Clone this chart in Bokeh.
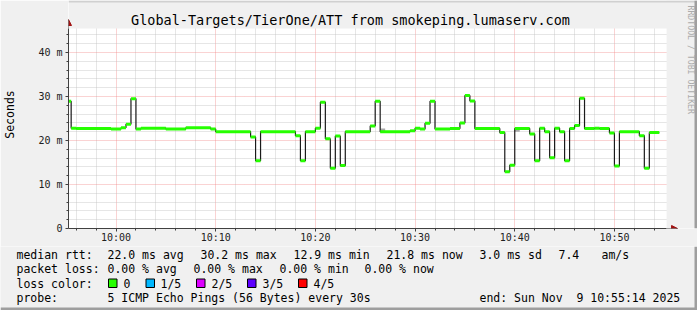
import math
import pandas as pd
from bokeh.plotting import figure
from bokeh.layouts import column
from bokeh.models import (Range1d, FixedTicker, DatetimeTickFormatter, Label,
                          BoxAnnotation, Arrow, NormalHead)
from bokeh.embed import file_html
from bokeh.resources import INLINE

DAY = "2025-11-09"
START = "09:55:14"
END = "10:55:14"
Y_MAX = 45.45

# median RTT steps (segment start times, last entry = end of last segment), ms
seg_times = ["09:55:14", "09:55:30", "09:56:00", "09:59:30", "10:00:30", "10:01:00",
             "10:01:30", "10:02:00", "10:02:30", "10:05:00", "10:07:00", "10:09:30",
             "10:10:00", "10:13:30", "10:14:00", "10:14:30", "10:18:00", "10:18:30",
             "10:19:00", "10:20:00", "10:20:30", "10:21:00", "10:21:30", "10:22:00",
             "10:22:30", "10:23:00", "10:25:30", "10:26:00", "10:26:30", "10:29:30",
             "10:30:00", "10:30:30", "10:31:00", "10:31:30", "10:32:00", "10:33:30",
             "10:34:30", "10:35:00", "10:35:30", "10:36:00", "10:38:30", "10:39:00",
             "10:39:30", "10:40:00", "10:41:30", "10:42:00", "10:42:30", "10:43:00",
             "10:43:30", "10:44:00", "10:44:30", "10:45:00", "10:45:30", "10:46:00",
             "10:46:30", "10:47:00", "10:48:00", "10:48:30", "10:49:30", "10:50:00",
             "10:50:30", "10:52:30", "10:53:00", "10:53:30", "10:54:30"]
median_ms = [28.9, 22.8, 22.7, 22.6, 22.9, 23.7,
             29.5, 22.6, 22.8, 22.6, 22.9, 22.6,
             22.0, 20.8, 15.4, 22.0, 21.1, 15.4,
             22.0, 22.8, 28.7, 20.4, 13.7, 21.0,
             14.3, 22.0, 23.3, 28.9, 22.0, 22.2,
             22.8, 22.6, 23.9, 28.9, 22.6, 22.7,
             24.0, 30.2, 29.0, 22.7, 21.8, 12.9,
             14.4, 22.7, 21.5, 15.4, 22.8, 22.0,
             16.1, 22.8, 22.0, 15.4, 22.7, 23.4,
             29.6, 22.7, 22.8, 22.7, 21.7, 14.2,
             22.0, 21.1, 13.7, 21.8]

# smoke patches (ping spread)
smoke_start = ["10:26:30", "10:40:00"]
smoke_end = ["10:27:00", "10:40:30"]
smoke_lo = [22.0, 22.0]
smoke_hi = [22.7, 22.7]

y_ticks = [0, 10, 20, 30, 40]
y_tick_labels = ["0", "10 m", "20 m", "30 m", "40 m"]
x_tick_times = ["10:00", "10:10", "10:20", "10:30", "10:40", "10:50"]

loss_labels = ["0", "1/5", "2/5", "3/5", "4/5"]
loss_colors = ["#26ff00", "#00b8ff", "#dd00ff", "#5e00ff", "#ff0000"]

title_text = "Global-Targets/TierOne/ATT from smokeping.lumaserv.com"
row1 = ["median rtt:", "22.0 ms avg", "30.2 ms max", "12.9 ms min", "21.8 ms now",
        "3.0 ms sd", "7.4", "am/s"]
row2 = ["packet loss:", "0.00 % avg", "0.00 % max", "0.00 % min", "0.00 % now"]
row3 = ["loss color:"]
row4 = ["probe:", "5 ICMP Echo Pings (56 Bytes) every 30s",
        "end: Sun Nov\u00a0 9 10:55:14 2025"]


def ms(t):
    if len(t) == 5:
        t = t + ":00"
    return pd.Timestamp(f"{DAY} {t}").value / 1e6


MONO = "DejaVu Sans Mono"
BG = "#f0f0f0"
W = 697
FL = 66           # data area left on canvas
DW = 600          # data area width (px)
DT, DB = 28, 228  # data area top / bottom on canvas
MAIN_H = 246
PX_MS = (ms(END) - ms(START)) / DW       # ms of time per pixel
PX_Y = Y_MAX / (DB - DT)                 # value per pixel

x_end = ms(END) + (W - FL - DW) * PX_MS
y_top = Y_MAX + DT * PX_Y

p = figure(width=W, height=MAIN_H, x_axis_type="datetime", output_backend="svg",
           toolbar_location=None, title=None,
           x_range=Range1d(ms(START), x_end), y_range=Range1d(0, y_top),
           min_border_left=FL, min_border_right=0, min_border_top=0,
           min_border_bottom=MAIN_H - DB)
p.frame_align = False
p.background_fill_color = "white"
p.border_fill_color = BG
p.outline_line_color = None

# ticks / grid
major_x = [ms(t) for t in x_tick_times]
minor_x = []
t = ms("09:56:00")
while t < ms(END):
    if t not in major_x:
        minor_x.append(t)
    t += 120000
xt = FixedTicker(ticks=major_x, minor_ticks=minor_x)
p.xaxis.ticker = xt
p.xgrid.ticker = xt
p.xaxis.formatter = DatetimeTickFormatter(seconds="%H:%M", minsec="%H:%M", minutes="%H:%M",
                                          hourmin="%H:%M", hours="%H:%M")
minor_y = [v for v in range(2, 46, 2) if v % 10 != 0]
yt = FixedTicker(ticks=y_ticks, minor_ticks=minor_y)
p.yaxis.ticker = yt
p.ygrid.ticker = yt
p.yaxis.major_label_overrides = {v: s for v, s in zip(y_ticks, y_tick_labels)}
p.xaxis.bounds = (ms(START), ms(END))
p.yaxis.bounds = (0, Y_MAX)

for g in (p.xgrid, p.ygrid):
    g.grid_line_color = "#f08080"
    g.grid_line_alpha = 0.7
    g.grid_line_dash = "1 1"
    g.minor_grid_line_color = "#c0c0c0"
    g.minor_grid_line_alpha = 0.8
    g.minor_grid_line_dash = "1 1"

for ax in (p.xaxis, p.yaxis):
    ax.axis_line_color = "#404040"
    ax.major_tick_line_color = "#404040"
    ax.minor_tick_line_color = "#404040"
    ax.major_tick_in = 0
    ax.major_tick_out = 3
    ax.minor_tick_in = 0
    ax.minor_tick_out = 2
    ax.major_label_text_font = MONO
    ax.major_label_text_font_size = "10px"
    ax.major_label_text_color = "#202020"
p.xaxis.major_label_standoff = 0
p.yaxis.major_label_standoff = 3
p.yaxis.axis_label = "Seconds"
p.yaxis.axis_label_text_font = MONO
p.yaxis.axis_label_text_font_size = "11.5px"
p.yaxis.axis_label_text_font_style = "normal"
p.yaxis.axis_label_text_color = "#000000"
p.yaxis.axis_label_standoff = 18

# cover the parts of the frame outside the data area (title strip, right strip)
p.quad(left=[ms(START), ms(END)], right=[x_end, x_end], bottom=[Y_MAX, 0],
       top=[y_top, y_top], fill_color=BG, line_color=None)
p.quad(left=[ms(START), ms(START) + (W - 3 - FL) * PX_MS],
       right=[x_end, x_end],
       bottom=[y_top - 2 * PX_Y, 0], top=[y_top, y_top],
       fill_color=["#d0d0d0", "#9e9e9e"], line_color=None)

# data
starts = [ms(s) for s in seg_times[:-1]]
ends = [ms(s) for s in seg_times[1:]]
xs, ys = [], []
for a, b, v in zip(starts, ends, median_ms):
    xs += [a, b]
    ys += [v, v]
p.quad(left=[ms(s) for s in smoke_start], right=[ms(s) for s in smoke_end],
       bottom=smoke_lo, top=smoke_hi, fill_color="#a8a8a8", line_color=None)
p.line(xs, ys, line_color="#1a1a1a", line_width=1.2)
p.segment(x0=starts, y0=median_ms, x1=ends, y1=median_ms,
          line_color="#26ff00", line_width=3, line_cap="butt")

# axis arrows
head_c = "#a01010"
p.add_layout(Arrow(x_start=ms(START), y_start=Y_MAX, x_end=ms(START), y_end=Y_MAX + 9 * PX_Y,
                   line_color="#404040", line_width=1,
                   end=NormalHead(size=6, fill_color=head_c, line_color=head_c)))
p.add_layout(Arrow(x_start=ms(END), y_start=0, x_end=ms(END) + 11 * PX_MS, y_end=0,
                   line_color="#404040", line_width=1,
                   end=NormalHead(size=6, fill_color=head_c, line_color=head_c)))


def lab(fig, text, xs_, ys_, size="11.5px", **kw):
    fig.add_layout(Label(x=xs_, y=ys_, x_units="screen", y_units="screen",
                         text=text, text_font=MONO, text_font_size=size,
                         text_baseline=kw.pop("baseline", "middle"),
                         text_align=kw.pop("align", "left"),
                         text_color=kw.pop("color", "#000000"), **kw))


# labels in main figure (frame-relative: x from canvas x=66, y up from canvas y=228)
lab(p, title_text, 348 - FL, DB - 19.5, size="13.5px", align="center")
lab(p, "RRDTOOL / TOBI OETIKER", 688 - FL, DB - 5, size="8.2px", align="left",
    angle=-math.pi / 2, color="#ababab")

# legend figure below
LH = 310 - MAIN_H
q = figure(width=W, height=LH, output_backend="svg", toolbar_location=None, title=None,
           x_range=Range1d(0, W), y_range=Range1d(0, LH),
           x_axis_location=None, y_axis_location=None,
           min_border_left=0, min_border_right=0, min_border_top=0, min_border_bottom=0)
q.frame_align = False
q.background_fill_color = BG
q.border_fill_color = BG
q.outline_line_color = None
q.grid.visible = False


def ly(yc):
    return 310 - yc


row1_x = [16, 107, 200, 293, 386, 479, 558, 601]
row2_x = [16, 107, 193, 279, 364]
row4_x = [16, 107, 479]
for txt, x in zip(row1, row1_x):
    lab(q, txt, x, ly(254))
for txt, x in zip(row2, row2_x):
    lab(q, txt, x, ly(268.5))
lab(q, row3[0], 16, ly(283))
for txt, x in zip(row4, row4_x):
    lab(q, txt, x, ly(297.5))

box_x = [108, 145.5, 196, 247, 298]
text_x = [123, 160, 211, 262, 313]
for lbl, tx in zip(loss_labels, text_x):
    lab(q, lbl, tx, ly(283))
for col, bx in zip(loss_colors, box_x):
    q.add_layout(BoxAnnotation(left=bx, right=bx + 8.5, top=ly(278.5), bottom=ly(287),
                               left_units="screen", right_units="screen",
                               top_units="screen", bottom_units="screen",
                               fill_color=col, fill_alpha=1.0,
                               line_color="black", line_width=1, line_alpha=1.0))
# frame shading of the canvas edge
q.add_layout(BoxAnnotation(left=W - 3, right=W, top=LH, bottom=0,
                           left_units="screen", right_units="screen",
                           top_units="screen", bottom_units="screen",
                           fill_color="#9e9e9e", fill_alpha=1.0, line_color=None))
q.add_layout(BoxAnnotation(left=0, right=W, top=3, bottom=0,
                           left_units="screen", right_units="screen",
                           top_units="screen", bottom_units="screen",
                           fill_color="#9e9e9e", fill_alpha=1.0, line_color=None))

layout = column(p, q, spacing=0)
open("out.html", "w").write(file_html(layout, INLINE))
